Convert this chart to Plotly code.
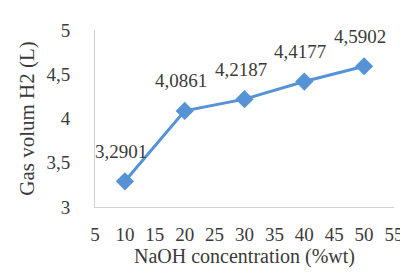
import plotly.graph_objects as go

naoh = [10, 20, 30, 40, 50]
gas_volume = [3.2901, 4.0861, 4.2187, 4.4177, 4.5902]
value_labels = ["3,2901", "4,0861", "4,2187", "4,4177", "4,5902"]
x_ticks = [5, 10, 15, 20, 25, 30, 35, 40, 45, 50, 55]
y_ticks = [3, 3.5, 4, 4.5, 5]

font_family = "Liberation Serif"
text_color = "#3a3a3a"
line_color = "#5592d6"

fig = go.Figure()
fig.add_trace(go.Scatter(
    x=naoh, y=gas_volume, mode="lines+markers",
    line=dict(color=line_color, width=3),
    marker=dict(symbol="diamond", size=14, color=line_color),
    showlegend=False,
))

for xv, yv, lab in zip(naoh, gas_volume, value_labels):
    fig.add_annotation(x=xv, y=yv, text=lab, showarrow=False,
                       xshift=-4, yshift=30,
                       font=dict(family=font_family, size=19, color=text_color))

fig.update_layout(
    width=408, height=273,
    margin=dict(l=87, r=13, t=14, b=74),
    paper_bgcolor="white", plot_bgcolor="white",
    separators=", ",
    font=dict(family=font_family, size=19, color=text_color),
    xaxis=dict(range=[5, 55], tickvals=x_ticks,
               showgrid=False, zeroline=False, showline=True, linecolor="#d0d0d0", linewidth=1,
               ticks="", ticklabelstandoff=10,
               title=dict(text="NaOH concentration (%wt)", font=dict(size=20), standoff=0)),
    yaxis=dict(range=[3, 5], tickvals=y_ticks,
               showgrid=False, zeroline=False, showline=True, linecolor="#d0d0d0", linewidth=1,
               ticks="", ticklabelstandoff=20,
               title=dict(text="Gas volum H2 (L)", font=dict(size=21), standoff=6)),
)

fig.write_html("out.html")
